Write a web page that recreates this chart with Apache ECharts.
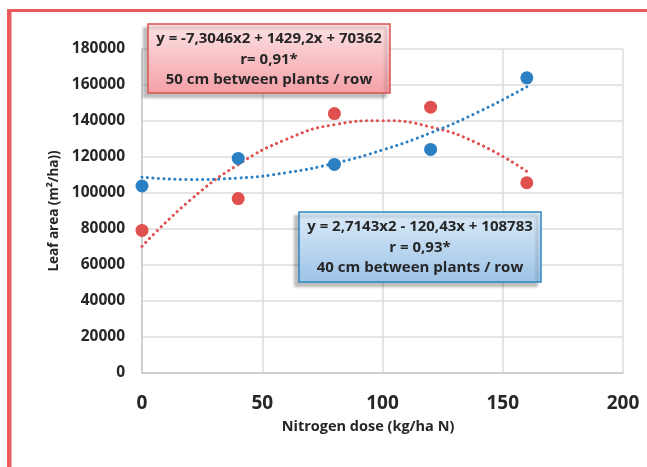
<!DOCTYPE html>
<html>
<head>
<meta charset="utf-8">
<script src="https://cdn.jsdelivr.net/npm/echarts@6/dist/echarts.min.js"></script>
<style>
  html, body { margin: 0; padding: 0; background: #fff; }
  #chart { width: 647px; height: 467px; }
</style>
</head>
<body>
<div id="chart"></div>
<script>
// nitrogen doses (kg/ha N)
const doses = [0, 40, 80, 120, 160];
// leaf area, measured points
const leaf50 = [79200, 96900, 144100, 147700, 105700]; // 50 cm between plants
const leaf40 = [103900, 119200, 115900, 124200, 164000]; // 40 cm between plants

// trendlines
const trendX = [0, 20, 40, 60, 80, 100, 120, 140, 160];
const trend50 = [70400, 96000, 115800, 129800, 138000, 140200, 136700, 127300, 112000];
const trend40 = [108800, 107500, 108300, 111300, 116500, 123900, 133400, 145100, 159000];

const label50 = ['y = -7,3046x2 + 1429,2x + 70362', 'r= 0,91*', '50 cm between plants / row'];
const label40 = ['y = 2,7143x2 - 120,43x + 108783', 'r = 0,93*', '40 cm between plants / row'];

const RED = '#e0504e';
const BLUE = '#2b7fc3';
const FONT = 'Open Sans';

const pairs = (xs, ys) => xs.map((x, i) => [x, ys[i]]);

const dotted = color => ({
  color,
  width: 3,
  type: [0.1, 5.4],
  cap: 'round',
});

const textStyle = (text, size) => ({
  text,
  fontFamily: FONT,
  fontWeight: 'bold',
  fontSize: size,
  fill: '#262626',
  align: 'center',
  verticalAlign: 'middle',
});

const noteBox = (x, y, w, h, top, bottom, stroke, lines) => ({
  type: 'group',
  x,
  y,
  z: 100,
  children: [
    {
      type: 'rect',
      z: 100,
      shape: { x: 0, y: 0, width: w, height: h },
      style: {
        fill: new echarts.graphic.LinearGradient(0, 0, 0, 1, [
          { offset: 0, color: top },
          { offset: 1, color: bottom },
        ]),
        stroke,
        lineWidth: 1.5,
        shadowColor: 'rgba(0,0,0,0.25)',
        shadowBlur: 3,
        shadowOffsetX: -4,
        shadowOffsetY: 4,
      },
    },
  ].concat(
    lines.map((t, i) => ({
      type: 'text',
      z: 101,
      x: w / 2,
      y: 15 + i * 20.5,
      style: textStyle(t, 15),
    }))
  ),
});

const chart = echarts.init(document.getElementById('chart'));
chart.setOption({
  animation: false,
  backgroundColor: '#fff',
  grid: { left: 142, right: 24, top: 49, bottom: 94 },
  xAxis: {
    type: 'value',
    min: 0,
    max: 200,
    interval: 50,
    axisLine: { show: true, lineStyle: { color: '#c8c8c8', width: 1.5 } },
    axisTick: { show: false },
    splitLine: { show: true, lineStyle: { color: '#dcdcdc', width: 1.5 } },
    axisLabel: {
      margin: 21,
      color: '#262626',
      fontFamily: FONT,
      fontWeight: 'bold',
      fontSize: 19,
    },
  },
  yAxis: {
    type: 'value',
    min: 0,
    max: 180000,
    interval: 20000,
    name: 'Leaf area (m²/ha))',
    nameLocation: 'middle',
    nameGap: 77,
    nameTextStyle: {
      color: '#262626',
      fontFamily: FONT,
      fontWeight: 'bold',
      fontSize: 13.5,
    },
    axisLine: { show: true, lineStyle: { color: '#c8c8c8', width: 1.5 } },
    axisTick: { show: false },
    splitLine: { show: true, lineStyle: { color: '#dcdcdc', width: 1.5 } },
    axisLabel: {
      margin: 17,
      color: '#262626',
      fontFamily: FONT,
      fontWeight: 'bold',
      fontSize: 15.5,
      formatter: v => String(v),
    },
  },
  series: [
    {
      type: 'line',
      data: pairs(trendX, trend50),
      smooth: true,
      showSymbol: false,
      lineStyle: dotted(RED),
      z: 2,
    },
    {
      type: 'line',
      data: pairs(trendX, trend40),
      smooth: true,
      showSymbol: false,
      lineStyle: dotted(BLUE),
      z: 2,
    },
    {
      type: 'scatter',
      data: pairs(doses, leaf50),
      symbolSize: 13,
      itemStyle: { color: RED, opacity: 1 },
      z: 3,
    },
    {
      type: 'scatter',
      data: pairs(doses, leaf40),
      symbolSize: 13,
      itemStyle: { color: BLUE, opacity: 1 },
      z: 3,
    },
  ],
  graphic: [
    // red frame, top and left
    { type: 'rect', shape: { x: 7, y: 9, width: 640, height: 3 }, style: { fill: '#e85c5c' } },
    { type: 'rect', shape: { x: 7, y: 9, width: 4.5, height: 458 }, style: { fill: '#e85c5c' } },
    {
      type: 'text',
      x: 368,
      y: 427,
      style: textStyle('Nitrogen dose (kg/ha N)', 14.5),
    },
    noteBox(148, 24, 242, 69, '#fde3e5', '#f3a0a6', '#d9534f', label50),
    noteBox(299, 212, 242, 70, '#dcebf8', '#9cc3e7', '#2e86c1', label40),
  ],
});
</script>
</body>
</html>
